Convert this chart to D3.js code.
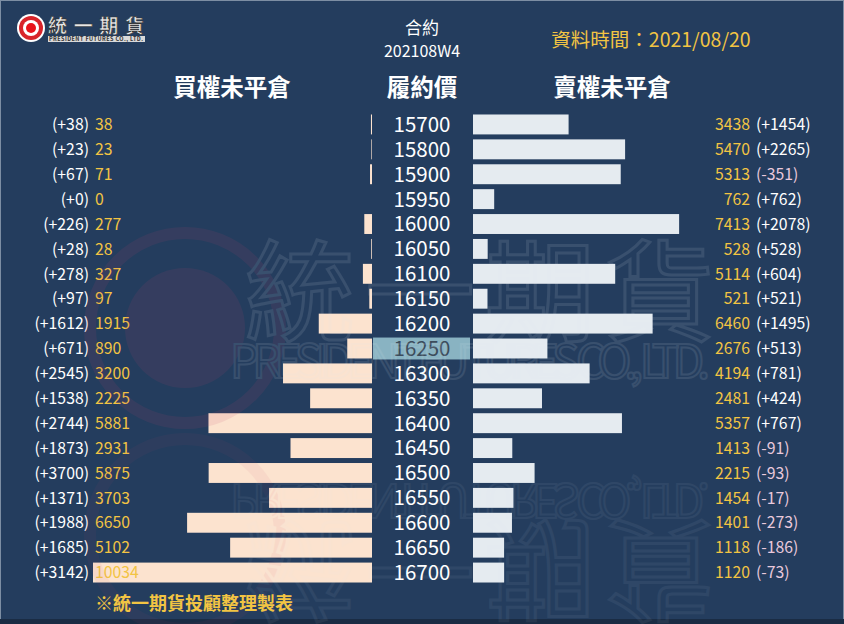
<!DOCTYPE html>
<html><head><meta charset="utf-8">
<script src="https://cdn.jsdelivr.net/npm/d3@7"></script>
<style>
body{margin:0;background:#243d5e;}
svg{display:block;}
</style></head>
<body>
<svg id="c" width="844" height="624"></svg>
<script>
const strikes = [15700,15800,15900,15950,16000,16050,16100,16150,16200,16250,16300,16350,16400,16450,16500,16550,16600,16650,16700];
const callOI = [38,23,71,0,277,28,327,97,1915,890,3200,2225,5881,2931,5875,3703,6650,5102,10034];
const callChg = [38,23,67,0,226,28,278,97,1612,671,2545,1538,2744,1873,3700,1371,1988,1685,3142];
const putOI = [3438,5470,5313,762,7413,528,5114,521,6460,2676,4194,2481,5357,1413,2215,1454,1401,1118,1120];
const putChg = [1454,2265,-351,762,2078,528,604,521,1495,513,781,424,767,-91,-93,-17,-273,-186,-73];
const atmStrike = 16250;

const font = "'Noto Sans CJK TC','Noto Sans',sans-serif";
const svg = d3.select('#c');
const W = 844, H = 624;
const bg = '#243d5e', orange = '#f2c443', callCol = '#fce3cf', putCol = '#e5ebf0', negCol = '#e9c9dc';

svg.append('rect').attr('width',W).attr('height',H).attr('fill',bg);
svg.append('rect').attr('x',0.5).attr('y',0.5).attr('width',W-1).attr('height',H-4)
  .attr('fill','none').attr('stroke','#7d8ea3').attr('stroke-width',1);
svg.append('rect').attr('x',0).attr('y',H-5).attr('width',W).attr('height',5).attr('fill','#1a2c44');

const y = d3.scaleBand().domain(strikes).range([112, 585]).paddingInner(0.2).paddingOuter(0.1);
const x = d3.scaleLinear().domain([0, 10034]).range([0, 279]);
const callRight = 372, putLeft = 473, cx = 422;

const rows = strikes.map((s,i)=>({s, c:callOI[i], cc:callChg[i], p:putOI[i], pc:putChg[i]}));

// bars
svg.append('g').selectAll('rect').data(rows).join('rect')
  .attr('x', d=>callRight - x(d.c)).attr('y', d=>y(d.s))
  .attr('width', d=>x(d.c)).attr('height', y.bandwidth()).attr('fill', callCol);
svg.append('g').selectAll('rect').data(rows).join('rect')
  .attr('x', putLeft).attr('y', d=>y(d.s))
  .attr('width', d=>x(d.p)).attr('height', y.bandwidth()).attr('fill', putCol);

// ATM highlight
svg.append('rect').attr('x',373).attr('y',y(atmStrike)-1).attr('width',97).attr('height',y.bandwidth()+2).attr('fill','#89b3c2');

const mid = d=>y(d.s)+y.bandwidth()/2;
// strikes
svg.append('g').selectAll('text').data(rows).join('text')
  .attr('x',cx).attr('y',mid).attr('dy','0.36em').attr('text-anchor','middle')
  .attr('font-family',font).attr('font-size',20.5)
  .attr('fill',d=>d.s===atmStrike?'#3c4c5c':'#ffffff').text(d=>d.s);

const fmtChg = v => '(' + (v>=0?'+':'') + v + ')';
const nfs = 15.8;
// left labels
svg.append('g').selectAll('text').data(rows).join('text')
  .attr('x',89).attr('y',mid).attr('dy','0.36em').attr('text-anchor','end')
  .attr('font-family',font).attr('font-size',nfs).attr('fill','#ffffff').text(d=>fmtChg(d.cc));
svg.append('g').selectAll('text').data(rows).join('text')
  .attr('x',95).attr('y',mid).attr('dy','0.36em')
  .attr('font-family',font).attr('font-size',nfs).attr('fill',orange).text(d=>d.c);
// right labels
svg.append('g').selectAll('text').data(rows).join('text')
  .attr('x',750).attr('y',mid).attr('dy','0.36em').attr('text-anchor','end')
  .attr('font-family',font).attr('font-size',nfs).attr('fill',orange).text(d=>d.p);
svg.append('g').selectAll('text').data(rows).join('text')
  .attr('x',756).attr('y',mid).attr('dy','0.36em')
  .attr('font-family',font).attr('font-size',nfs).attr('fill',d=>d.pc<0?negCol:'#ffffff').text(d=>fmtChg(d.pc));

// watermark
const wm = svg.append('g').attr('opacity',0.11).attr('pointer-events','none');
wm.append('circle').attr('cx',185).attr('cy',328).attr('r',95).attr('fill','none').attr('stroke','#c0406a').attr('stroke-width',12);
wm.append('circle').attr('cx',185).attr('cy',328).attr('r',60).attr('fill','#c0406a');
wm.append('text').attr('x',480).attr('y',333).attr('text-anchor','middle').attr('font-family',font)
  .attr('font-size',110).attr('fill','none').attr('stroke','#e0e8f0').attr('stroke-width',3).attr('textLength',470).text('統一期貨');
wm.append('text').attr('x',470).attr('y',378).attr('text-anchor','middle').attr('font-family',font)
  .attr('font-size',46).attr('fill','none').attr('stroke','#e0e8f0').attr('stroke-width',2).attr('textLength',480).text('PRESIDENT FUTURES CO., LTD.');
const wm2 = svg.append('g').attr('opacity',0.06).attr('transform','translate(0,862) scale(1,-1)');
wm2.append('circle').attr('cx',185).attr('cy',328).attr('r',95).attr('fill','none').attr('stroke','#c0406a').attr('stroke-width',12);
wm2.append('text').attr('x',480).attr('y',333).attr('text-anchor','middle').attr('font-family',font)
  .attr('font-size',110).attr('fill','none').attr('stroke','#e0e8f0').attr('stroke-width',3).attr('textLength',470).text('統一期貨');
wm2.append('text').attr('x',470).attr('y',378).attr('text-anchor','middle').attr('font-family',font)
  .attr('font-size',46).attr('fill','none').attr('stroke','#e0e8f0').attr('stroke-width',2).attr('textLength',480).text('PRESIDENT FUTURES CO., LTD.');

// headers
const hdr = (t,xx,yy,size,col,weight,anchor)=>svg.append('text').attr('x',xx).attr('y',yy)
  .attr('text-anchor',anchor||'middle').attr('font-family',font).attr('font-size',size)
  .attr('font-weight',weight||'normal').attr('fill',col).text(t);
hdr('買權未平倉',232,96,23.5,'#ffffff','bold');
hdr('履約價',422,96,23.5,'#ffffff','bold');
hdr('賣權未平倉',612,96,23.5,'#ffffff','bold');
hdr('合約',422,34,17,'#ffffff','normal');
hdr('202108W4',422,57,16,'#ffffff','normal');
hdr('資料時間：2021/08/20',651,47,19.5,orange,'normal');
hdr('※統一期貨投顧整理製表',95,610,18,orange,'bold','start');

// logo
const lg = svg.append('g');
lg.append('circle').attr('cx',31).attr('cy',28).attr('r',14).attr('fill','#ffffff');
lg.append('circle').attr('cx',31).attr('cy',28).attr('r',12).attr('fill','#d8242a');
lg.append('circle').attr('cx',31).attr('cy',28).attr('r',8).attr('fill','#ffffff');
lg.append('circle').attr('cx',31).attr('cy',28).attr('r',5).attr('fill','#e8131b');
lg.append('text').attr('x',48).attr('y',33).attr('font-family',font).attr('font-size',19).attr('font-weight','bold')
  .attr('fill','#e8e8e8').attr('stroke','#333').attr('stroke-width',0.6).attr('textLength',96).text('統一期貨');
lg.append('rect').attr('x',48).attr('y',36).attr('width',97).attr('height',6).attr('fill','#d9d9d9');
lg.append('text').attr('x',49).attr('y',41).attr('font-family',font).attr('font-size',5.5).attr('font-weight','bold')
  .attr('fill','#333').attr('textLength',94).text('PRESIDENT FUTURES CO., LTD.');
</script>
</body></html>
